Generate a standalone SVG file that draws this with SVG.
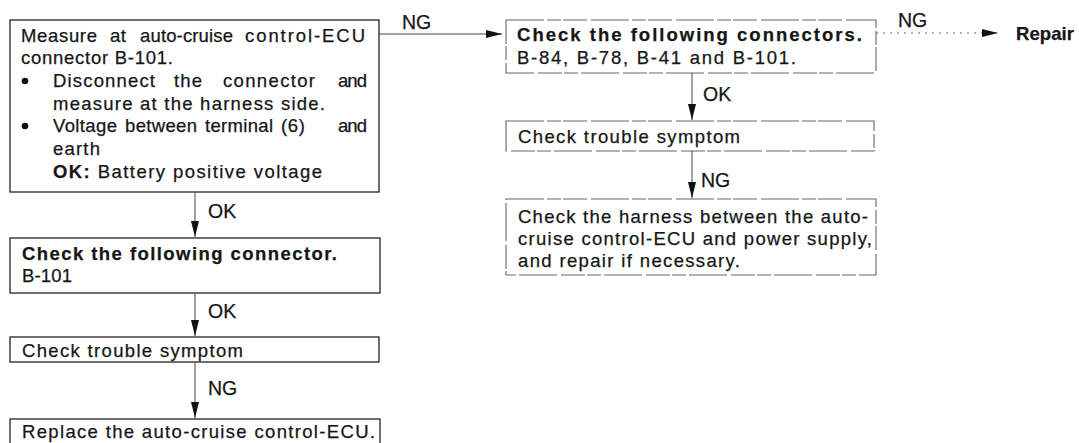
<svg xmlns="http://www.w3.org/2000/svg" width="1079" height="443" viewBox="0 0 1079 443">
  <style>
    text { font-family: "Liberation Sans", Arial, sans-serif; font-size: 18.5px; fill: #161616; stroke: #161616; stroke-width: 0.25; }
    .b { font-weight: bold; }
    .lbl { font-size: 19.5px; }
    .box { fill: #fff; stroke: #222; stroke-width: 1.3; }
    .box2 { fill: #fff; stroke: #666; stroke-width: 1.1; stroke-dasharray: 38 3 14 2 24 4; }
    .wire { stroke: #444; stroke-width: 1; fill: none; }
    .dot { stroke: #666; stroke-width: 1; stroke-dasharray: 2 5; fill: none; }
  </style>
  <defs>
    <marker id="head" viewBox="0 0 16 8" refX="16" refY="4" markerWidth="16" markerHeight="8" markerUnits="userSpaceOnUse" orient="auto">
      <path d="M0,0 L16,4 L0,8 z" fill="#111"/>
    </marker>
  </defs>

  <!-- left column -->
  <g id="measure">
    <rect class="box" x="10" y="20" width="369" height="172"/>
    <text x="21" y="42" textLength="76" lengthAdjust="spacing">Measure</text>
    <text x="110" y="42" textLength="16" lengthAdjust="spacing">at</text>
    <text x="140" y="42" textLength="93" lengthAdjust="spacing">auto-cruise</text>
    <text x="245" y="42" textLength="120" lengthAdjust="spacing">control-ECU</text>
    <text x="21" y="64" textLength="152" lengthAdjust="spacing">connector B-101.</text>
    <circle cx="25" cy="81" r="3.3" fill="#111"/>
    <text x="53" y="87" textLength="102" lengthAdjust="spacing">Disconnect</text>
    <text x="174" y="87" textLength="28" lengthAdjust="spacing">the</text>
    <text x="223" y="87" textLength="92" lengthAdjust="spacing">connector</text>
    <text x="338" y="87" textLength="29" lengthAdjust="spacing">and</text>
    <text x="53" y="110" textLength="272" lengthAdjust="spacing">measure at the harness side.</text>
    <circle cx="25" cy="126" r="3.3" fill="#111"/>
    <text x="53" y="132" textLength="64" lengthAdjust="spacing">Voltage</text>
    <text x="125" y="132" textLength="72" lengthAdjust="spacing">between</text>
    <text x="205" y="132" textLength="68" lengthAdjust="spacing">terminal</text>
    <text x="281" y="132" textLength="24" lengthAdjust="spacing">(6)</text>
    <text x="338" y="132" textLength="29" lengthAdjust="spacing">and</text>
    <text x="53" y="155" textLength="47" lengthAdjust="spacing">earth</text>
    <text x="53" y="178" textLength="269" lengthAdjust="spacing"><tspan class="b">OK:</tspan> Battery positive voltage</text>
  </g>

  <g id="check-connector">
    <rect class="box" x="10" y="238" width="370" height="55"/>
    <text class="b" x="22" y="260" textLength="315" lengthAdjust="spacing">Check the following connector.</text>
    <text x="22" y="282" textLength="50" lengthAdjust="spacing">B-101</text>
  </g>

  <g id="symptom-left">
    <rect class="box" x="10" y="337" width="369" height="25"/>
    <text x="22" y="357" textLength="221" lengthAdjust="spacing">Check trouble symptom</text>
  </g>

  <g id="replace-ecu">
    <rect class="box" x="10" y="419" width="370" height="30"/>
    <text x="22" y="438" textLength="353" lengthAdjust="spacing">Replace the auto-cruise control-ECU.</text>
  </g>

  <!-- right column -->
  <g id="check-connectors">
    <rect class="box2" x="506" y="20" width="370" height="53"/>
    <text class="b" x="517" y="41" textLength="345" lengthAdjust="spacing">Check the following connectors.</text>
    <text x="517" y="64" textLength="279" lengthAdjust="spacing">B-84, B-78, B-41 and B-101.</text>
  </g>

  <g id="symptom-right">
    <rect class="box2" x="506" y="121" width="368" height="30"/>
    <text x="518" y="143" textLength="222" lengthAdjust="spacing">Check trouble symptom</text>
  </g>

  <g id="check-harness">
    <rect class="box2" x="506" y="199" width="370" height="76"/>
    <text x="518" y="223" textLength="350" lengthAdjust="spacing">Check the harness between the auto-</text>
    <text x="518" y="245" textLength="354" lengthAdjust="spacing">cruise control-ECU and power supply,</text>
    <text x="518" y="267" textLength="222" lengthAdjust="spacing">and repair if necessary.</text>
  </g>

  <g id="repair">
    <text class="b" x="1016" y="40" textLength="58" lengthAdjust="spacing">Repair</text>
  </g>

  <!-- connectors -->
  <g id="connectors">
    <line class="wire" x1="195" y1="192" x2="195" y2="237" marker-end="url(#head)"/>
    <text class="lbl" x="208" y="218">OK</text>
    <line class="wire" x1="195" y1="293" x2="195" y2="336" marker-end="url(#head)"/>
    <text class="lbl" x="208" y="318">OK</text>
    <line class="wire" x1="195" y1="362" x2="195" y2="418" marker-end="url(#head)"/>
    <text class="lbl" x="208" y="395">NG</text>

    <line class="wire" x1="379" y1="34" x2="502" y2="34" marker-end="url(#head)"/>
    <text class="lbl" x="402" y="29">NG</text>

    <line class="wire" x1="692" y1="73" x2="692" y2="120" marker-end="url(#head)"/>
    <text class="lbl" x="703" y="101">OK</text>
    <line class="wire" x1="692" y1="151" x2="692" y2="198" marker-end="url(#head)"/>
    <text class="lbl" x="701" y="187">NG</text>

    <line class="dot" x1="876" y1="33" x2="998" y2="33" marker-end="url(#head)"/>
    <text class="lbl" x="898" y="27">NG</text>
  </g>
</svg>
